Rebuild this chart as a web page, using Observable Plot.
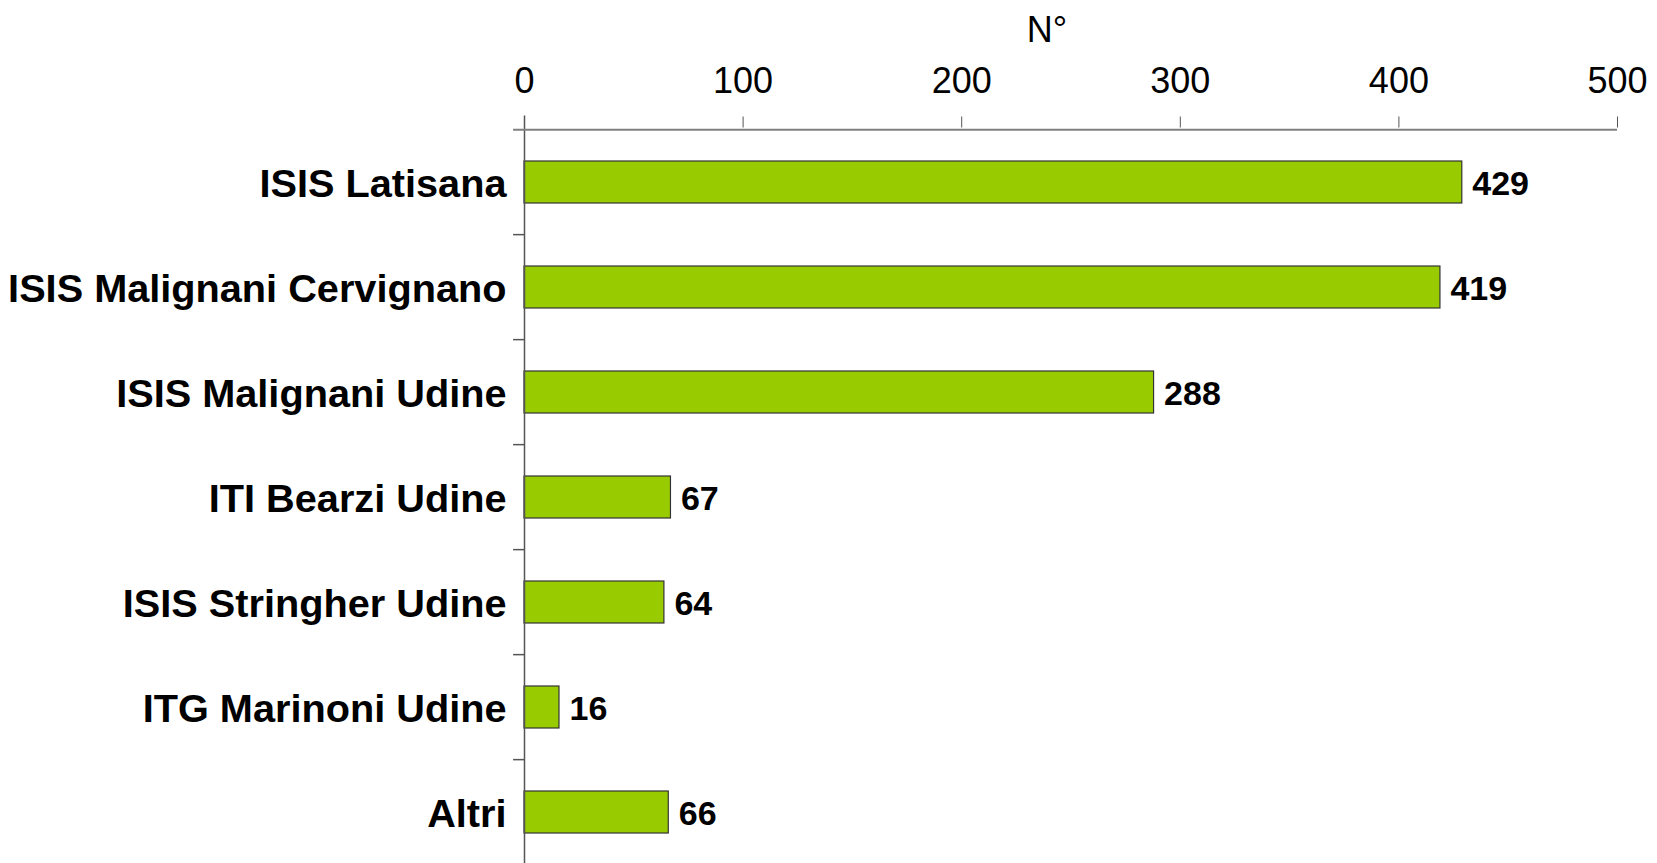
<!DOCTYPE html>
<html><head><meta charset="utf-8">
<script src="https://cdn.jsdelivr.net/npm/d3@7"></script>
<script src="https://cdn.jsdelivr.net/npm/@observablehq/plot@0.6"></script>
<style>body{margin:0;background:#fff;} svg{display:block;}</style>
</head><body><div id="chart"></div>
<script>
const categories = ["ISIS Latisana","ISIS Malignani Cervignano","ISIS Malignani Udine","ITI Bearzi Udine","ISIS Stringher Udine","ITG Marinoni Udine","Altri"];
const values = [429,419,288,67,64,16,66];
const xTicks = [0,100,200,300,400,500];
const axisTitle = "N°";
const data = categories.map((c,i)=>({school:c, n:values[i]}));

const W = 1657, H = 863, mTop = 126.5, mBottom = -3.6;
const step = (H - mBottom - mTop) / categories.length;

const chart = Plot.plot({
  width: W, height: H,
  marginLeft: 524, marginRight: 40, marginTop: mTop, marginBottom: mBottom,
  style: {fontFamily: "'Liberation Sans', Arial, sans-serif", background: "#fff", overflow: "visible", color: "#000"},
  x: {domain: [0, 500], ticks: xTicks},
  y: {domain: categories, paddingInner: 0.6, paddingOuter: 0.3},
  marks: [
    Plot.barX(data, {x: "n", y: "school", fill: "#99cc00", stroke: "#333", strokeWidth: 1.2}),
    Plot.ruleX([0], {stroke: "#555", strokeWidth: 1.5, insetTop: -11}),
    Plot.ruleY(categories.slice(1), {x1: -5, x2: 0, dy: -step/2, stroke: "#555", strokeWidth: 1.5}),
    Plot.ruleY([categories[0]], {x1: -5, x2: 500, dy: -step/2, stroke: "#808080", strokeWidth: 2}),
    Plot.axisX({anchor: "top", ticks: xTicks, tickSize: 11, tickPadding: 23, fontSize: 36, stroke: "#555", label: null, tickFormat: d => String(d)}),
    Plot.axisY({tickSize: 0, tickPadding: 18, fontSize: 39.7, fontWeight: "bold", label: null, dy: 2}),
    Plot.text(data, {x: "n", y: "school", text: d => String(d.n), textAnchor: "start", dx: 10, dy: 2, fontSize: 34, fontWeight: "bold", fill: "#000"}),
    Plot.text([axisTitle], {frameAnchor: "top", text: d => d, lineAnchor: "middle", fontSize: 36, dx: -24, dy: -97, fill: "#000"})
  ]
});
document.getElementById("chart").appendChild(chart);
</script>
</body></html>
